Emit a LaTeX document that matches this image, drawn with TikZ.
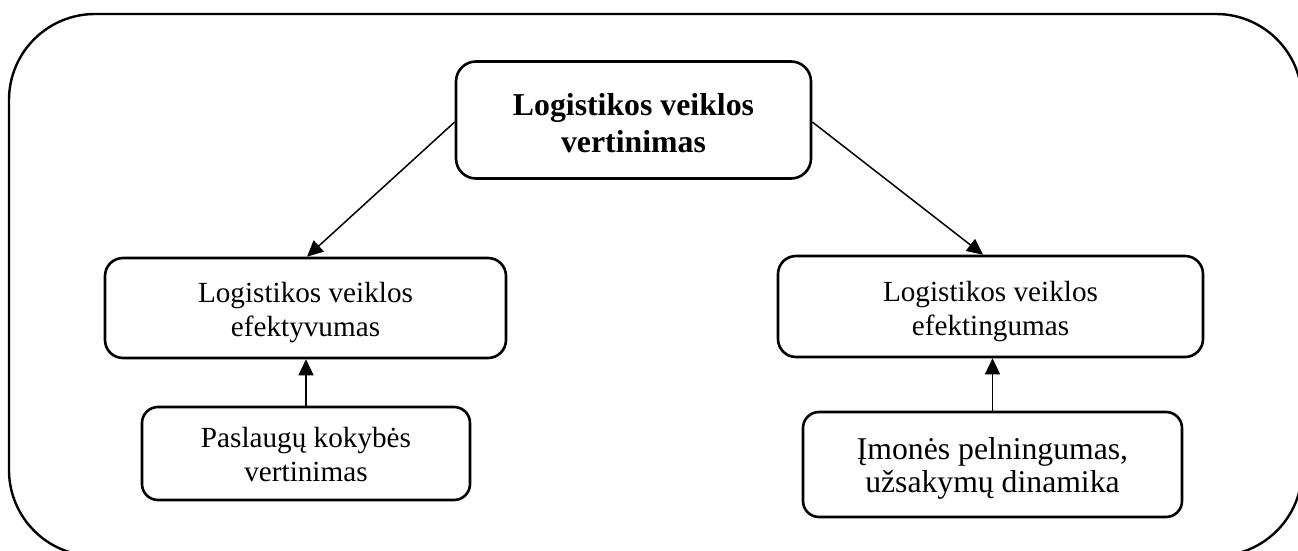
\documentclass[tikz,border=0pt]{standalone}
\usepackage{fontspec}
\setmainfont{Liberation Serif}
\usetikzlibrary{arrows.meta}
\tikzset{
  frame/.style={draw=black, line width=2.4pt, rounded corners=86pt},
  box/.style={draw=black, line width=2.6pt, inner sep=0pt},
  label text/.style={align=center, inner sep=0pt, font=\fontsize{29.2}{34}\selectfont},
  link/.style={draw=black, line width=1.5pt, -{Triangle[length=16pt,width=15pt]}}
}
\begin{document}
\begin{tikzpicture}[x=1pt,y=-1pt]
  \useasboundingbox (0,0) rectangle (1298,551);
  \begin{scope}
    \clip (0,0) rectangle (1298,551);
    \draw[frame] (9,14) rectangle (1302,556);
  \end{scope}
  % central concept
  \node[box, rounded corners=20pt, minimum width=355pt, minimum height=117pt]
        (top) at (633.5,120) {};
  \node[label text, font=\fontsize{31.8}{37}\bfseries\selectfont] (topT) at (633.5,123)
        {Logistikos veiklos\\vertinimas};
  % second level
  \node[box, rounded corners=18pt, minimum width=401pt, minimum height=100pt]
        (lm) at (305.5,308) {};
  \node[label text] (lmT) at (305.5,313) {Logistikos veiklos\\efektyvumas};
  \node[box, rounded corners=18pt, minimum width=425pt, minimum height=101pt]
        (rm) at (990.5,306.5) {};
  \node[label text] (rmT) at (990.5,311.5) {Logistikos veiklos\\efektingumas};
  % bottom level
  \node[box, rounded corners=16pt, minimum width=328pt, minimum height=93pt]
        (bl) at (306,453.5) {};
  \node[label text] (blT) at (306,455) {Paslaugų kokybės\\vertinimas};
  \node[box, rounded corners=16pt, minimum width=379pt, minimum height=105pt]
        (br) at (992.5,464.5) {};
  \node[label text, font=\fontsize{31.7}{33}\selectfont] (brT) at (992.5,468.5)
        {Įmonės pelningumas,\\užsakymų dinamika};
  % connectors
  \draw[link] ([yshift=-2pt]top.west) -- ([xshift=1.5pt]lm.north);
  \draw[link] ([yshift=-2pt]top.east) -- ([xshift=-7.5pt]rm.north);
  \draw[link] (bl.north) -- (bl.north |- lm.south);
  \draw[link] (br.north) -- (br.north |- rm.south);
\end{tikzpicture}
\end{document}
